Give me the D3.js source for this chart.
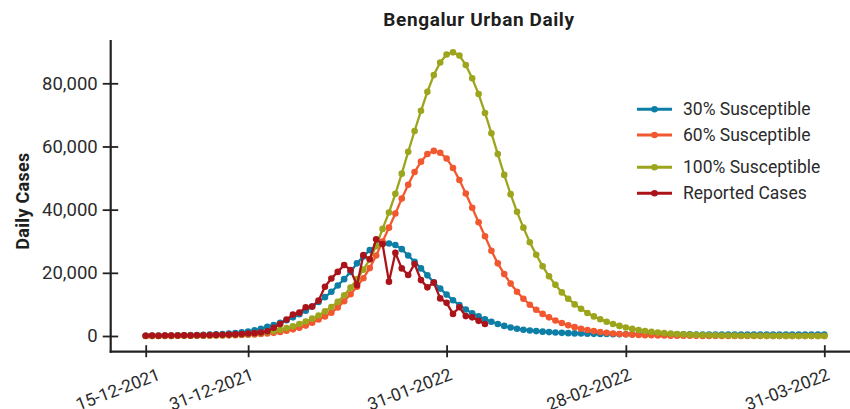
<!DOCTYPE html>
<html>
<head>
<meta charset="utf-8">
<script src="https://cdn.jsdelivr.net/npm/d3@7"></script>
<style>
  body { margin: 0; background: #fff; }
  text { font-family: Roboto, "Noto Sans", sans-serif; fill: #2b2b2b; }
</style>
</head>
<body>
<svg width="850" height="409"></svg>
<script>
// Daily series, one value per day starting 15-12-2021
var startDate = '15-12-2021';

var susceptible30 = [80, 100, 120, 140, 170, 200, 240, 280, 330, 390, 460, 540, 630, 750,
    950, 1150, 1400, 1800, 2300,
    2900, 3500, 4200, 5000, 5900, 6900, 8000, 9300, 10800, 12300, 14000, 16000, 18000, 20300, 23000, 25200, 27200, 28500, 29200, 29300, 28800,
    27500, 25500, 23500, 21400, 19200, 17000, 15000, 13100, 11300, 9800, 8400, 7200, 6200, 5300, 4500, 3800, 3200, 2700, 2300,
    2000, 1750, 1550, 1380, 1230, 1100, 1000, 900, 830, 770, 720, 680, 640, 610, 590, 570, 550,
    540, 533, 528, 524, 519, 515, 511, 506, 502, 499, 495, 492, 489, 486, 483, 480, 477, 474, 471, 469, 466, 463, 461, 458, 456, 454, 451, 449, 447, 445, 443];

var susceptible60 = [15, 18, 22, 27, 33, 40, 50, 60, 75, 92, 112, 137, 168, 205, 250,
    300, 380, 480, 610, 780, 1000, 1300, 1650, 2100, 2600, 3300, 4200, 5200, 6200, 7400,
    9000, 11000, 13200, 15600, 18300, 21500, 25500, 29900, 34300, 38800, 43500, 47900, 51900, 55200, 57600, 58600, 58000, 56200, 53200, 49400,
    45100, 40600, 36000, 31600, 27000, 23000, 19600, 16600, 14000, 11800, 9900, 8300, 7000, 5900, 4900, 4100, 3400, 2800, 2300, 1900,
    1550, 1250, 1000, 800, 650, 520, 420, 340, 270, 220, 175, 140, 112, 90, 72, 58, 46, 37, 30, 24,
    19, 15, 12, 10, 8, 6, 5, 4, 3, 3, 2, 2, 2, 1, 1, 1, 1];

var susceptible100 = [20, 25, 30, 40, 50, 60, 75, 90, 110, 135, 165, 200, 250, 310, 390,
    480, 600, 760, 960, 1250, 1600, 2000, 2500, 3100, 3800, 4600, 5500, 6500, 7800, 9200,
    10800, 12900, 15300, 18000, 21000, 24300, 28500, 33900, 39100, 45000, 51400, 58300, 64900, 71300, 77300, 82600, 86600, 89100, 89800, 88800,
    85800, 81600, 76600, 70600, 64200, 57600, 51000, 44900, 39300, 34300, 29700, 25700, 22100, 18900, 16200, 13800, 11800, 10000, 8600, 7300,
    6200, 5300, 4500, 3800, 3200, 2700, 2250, 1900, 1600, 1300, 1100, 900, 750, 620, 510, 420, 350, 290, 240, 200,
    165, 135, 110, 90, 75, 62, 51, 42, 35, 29, 24, 20, 16, 13, 11, 9, 7];

var reportedCases = [100, 120, 100, 150, 130, 170, 200, 180, 250, 230, 300, 350, 400, 450, 500, 650, 800, 900, 1100, 1500,
    2600, 3800, 5200, 6800, 7400, 9100, 9300, 11200, 15600, 18200, 20300, 22500, 20900, 16100, 25600, 24300, 30600, 29100, 17200, 26300,
    21400, 19300, 22800, 17700, 15400, 16900, 11900, 10500, 7000, 9100, 6300, 5900, 4800, 3800];

var seriesNames = ['30% Susceptible', '60% Susceptible', '100% Susceptible', 'Reported Cases'];
var seriesColors = ['#0d7ea6', '#f2582f', '#9ca51b', '#ab131a'];

var xTickLabels = ['15-12-2021', '31-12-2021', '31-01-2022', '28-02-2022', '31-03-2022'];
var yTickValues = [0, 20000, 40000, 60000, 80000];

var parseDate = d3.timeParse('%d-%m-%Y');
var formatDate = d3.timeFormat('%d-%m-%Y');
var day0 = parseDate(startDate);

function toPoints(values) {
    return values.map(function (v, i) {
        return { date: d3.timeDay.offset(day0, i), value: v };
    });
}

var allSeries = [susceptible30, susceptible60, susceptible100, reportedCases].map(function (vals, i) {
    return { name: seriesNames[i], color: seriesColors[i], points: toPoints(vals) };
});

var svg = d3.select('svg');

// layout
var axisX = 110.7, axisY = 351.7;

var x = d3.scaleTime()
    .domain([parseDate(xTickLabels[0]), parseDate(xTickLabels[xTickLabels.length - 1])])
    .range([145.7, 824.3]);

var y = d3.scaleLinear()
    .domain([0, 80000])
    .range([336, 83.3]);

// title
svg.append('text')
    .attr('x', 479)
    .attr('y', 26)
    .attr('text-anchor', 'middle')
    .style('font-weight', 'bold')
    .style('font-size', '19px')
    .style('letter-spacing', '0.6px')
    .style('fill', '#1e1e1e')
    .text('Bengalur Urban Daily');

// y label
svg.append('text')
    .attr('transform', 'translate(29,201) rotate(-90)')
    .attr('text-anchor', 'middle')
    .style('font-weight', 'bold')
    .style('font-size', '18px')
    .style('letter-spacing', '0.3px')
    .style('fill', '#1e1e1e')
    .text('Daily Cases');

// axes
var yAxisG = svg.append('g')
    .attr('transform', 'translate(' + axisX + ',0)')
    .call(d3.axisLeft(y).tickValues(yTickValues).tickSize(8).tickPadding(5).tickFormat(d3.format(',')));
yAxisG.select('.domain').remove();
yAxisG.selectAll('.tick line').attr('x1', 7.5).attr('stroke', '#222').attr('stroke-width', 1.8);
yAxisG.selectAll('.tick text').style('font-size', '18.5px').style('font-family', 'Roboto').attr('fill', '#2b2b2b');

var xAxisG = svg.append('g')
    .attr('transform', 'translate(0,' + axisY + ')')
    .call(d3.axisBottom(x).tickValues(xTickLabels.map(parseDate)).tickSize(6).tickFormat(formatDate));
xAxisG.select('.domain').remove();
xAxisG.selectAll('.tick line').attr('y1', -6.5).attr('y2', 5.5).attr('stroke', '#222').attr('stroke-width', 1.8);
// labels sit low and tilted, like the source (first one nudged right)
xAxisG.selectAll('.tick text')
    .attr('y', 0)
    .attr('dy', 0)
    .attr('text-anchor', 'end')
    .attr('transform', function (d, i) { return 'translate(' + (i === 0 ? 15 : 6) + ',27.5) rotate(-21)'; })
    .style('font-size', '17.5px')
    .style('font-family', 'Roboto')
    .attr('fill', '#2b2b2b');

svg.append('line')
    .attr('x1', axisX).attr('x2', axisX)
    .attr('y1', 40).attr('y2', axisY + 1)
    .attr('stroke', '#222').attr('stroke-width', 2.2);
svg.append('line')
    .attr('x1', axisX - 1).attr('x2', 850)
    .attr('y1', axisY).attr('y2', axisY)
    .attr('stroke', '#222').attr('stroke-width', 2.2);

// lines + dots
var line = d3.line()
    .x(function (d) { return x(d.date); })
    .y(function (d) { return y(d.value); });

var seriesG = svg.selectAll('.series')
    .data(allSeries)
    .enter()
    .append('g')
    .attr('class', 'series');

seriesG.append('path')
    .attr('d', function (d) { return line(d.points); })
    .attr('fill', 'none')
    .attr('stroke', function (d) { return d.color; })
    .attr('stroke-width', 2.3);

seriesG.each(function (s) {
    d3.select(this).selectAll('circle')
        .data(s.points)
        .enter()
        .append('circle')
        .attr('cx', function (d) { return x(d.date); })
        .attr('cy', function (d) { return y(d.value); })
        .attr('r', 3.3)
        .attr('fill', s.color);
});

// legend
var legendRows = [109.3, 135, 167.3, 193.3];
var legend = svg.selectAll('.legend')
    .data(allSeries)
    .enter()
    .append('g')
    .attr('class', 'legend')
    .attr('transform', function (d, i) { return 'translate(637,' + legendRows[i] + ')'; });

legend.append('line')
    .attr('x1', 0).attr('x2', 35)
    .attr('stroke', function (d) { return d.color; })
    .attr('stroke-width', 3);
legend.append('circle')
    .attr('cx', 17.5)
    .attr('r', 3.3)
    .attr('fill', function (d) { return d.color; });
legend.append('text')
    .attr('x', 46)
    .attr('dy', '0.35em')
    .style('font-size', '17.5px')
    .text(function (d) { return d.name; });
</script>
</body>
</html>
